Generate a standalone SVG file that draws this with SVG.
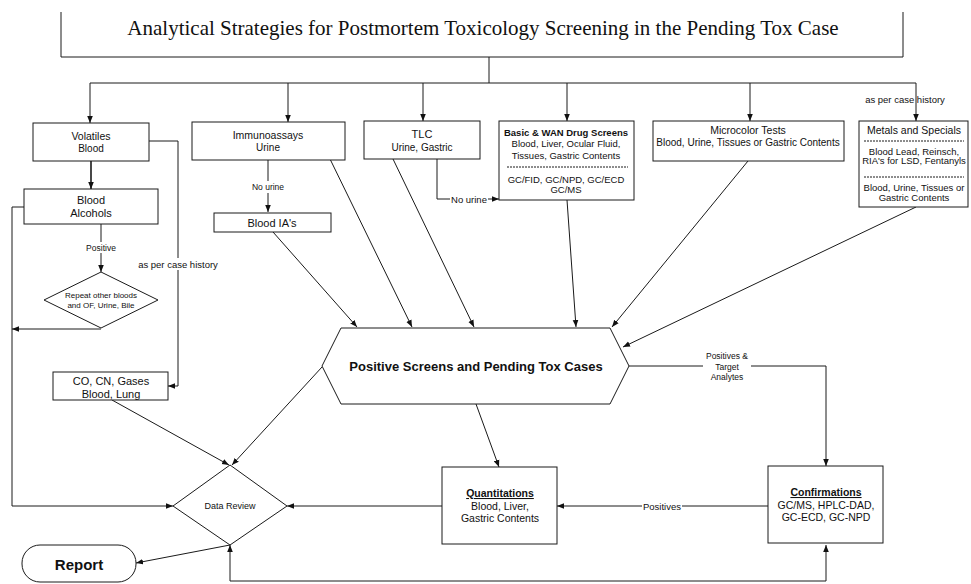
<svg xmlns="http://www.w3.org/2000/svg" width="971" height="584" viewBox="0 0 971 584">
<style>
  .box{fill:#fff;stroke:#1a1a1a;stroke-width:1}
  .ln{fill:none;stroke:#1a1a1a;stroke-width:1}
  .dash{fill:none;stroke:#1a1a1a;stroke-width:1;stroke-dasharray:2 1}
  .t{font-family:"Liberation Sans",Arial,sans-serif;fill:#111;text-anchor:middle}
  .b{font-weight:bold}
  .lbl{font-family:"Liberation Sans",Arial,sans-serif;fill:#111;text-anchor:middle;font-size:8.5px}
  .bg{fill:#fff;stroke:none}
</style>
<defs>
  <marker id="ah" viewBox="0 0 10 10" refX="10" refY="5" markerWidth="7" markerHeight="7" markerUnits="userSpaceOnUse" orient="auto-start-reverse">
    <path d="M0,1 L10,5 L0,9 z" fill="#111"/>
  </marker>
</defs>
<rect width="971" height="584" fill="#fff"/>

<g id="title">
  <path class="ln" d="M61,12 V57 H903 V12"/>
  <text x="483" y="35" font-family="'Liberation Serif','Times New Roman',serif" font-size="21" text-anchor="middle" fill="#111">Analytical Strategies for Postmortem Toxicology Screening in the Pending Tox Case</text>
</g>

<g id="connectors">
  <path class="ln" d="M489,57 V83"/>
  <path class="ln" d="M90,83 H916"/>
  <path class="ln" marker-end="url(#ah)" d="M90,83 V123"/>
  <path class="ln" marker-end="url(#ah)" d="M288,83 V122"/>
  <path class="ln" marker-end="url(#ah)" d="M423,83 V121"/>
  <path class="ln" marker-end="url(#ah)" d="M567,83 V121"/>
  <path class="ln" marker-end="url(#ah)" d="M750,83 V121"/>
  <path class="ln" marker-end="url(#ah)" d="M916,83 V121"/>
  <path class="ln" style="stroke-width:1.6" marker-end="url(#ah)" d="M91,161 V189"/>
  <path class="ln" marker-end="url(#ah)" d="M149,141 H178 V386 H168"/>
  <path class="ln" marker-end="url(#ah)" d="M101,224 V272"/>
  <path class="ln" marker-end="url(#ah)" d="M24,207 H12 V506 H173"/>
  <path class="ln" marker-end="url(#ah)" d="M101,329 H12"/>
  <path class="ln" marker-end="url(#ah)" d="M112,400 L229,465"/>
  <path class="ln" marker-end="url(#ah)" d="M322,367 L232,465"/>
  <path class="ln" marker-end="url(#ah)" d="M442,506 H287"/>
  <path class="ln" marker-end="url(#ah)" d="M230,545 L136,563"/>
  <path class="ln" marker-start="url(#ah)" marker-end="url(#ah)" d="M826,545 V581 H230 V545"/>
  <path class="ln" marker-end="url(#ah)" d="M476,404 L499,467"/>
  <path class="ln" marker-end="url(#ah)" d="M768,506 H557"/>
  <path class="ln" marker-end="url(#ah)" d="M629,366 H826 V466"/>
  <path class="ln" marker-end="url(#ah)" d="M268,160 V212"/>
  <path class="ln" marker-end="url(#ah)" d="M273,232 L357,327"/>
  <path class="ln" marker-end="url(#ah)" d="M330,159 L412,327"/>
  <path class="ln" marker-end="url(#ah)" d="M393,159 L474,327"/>
  <path class="ln" marker-end="url(#ah)" d="M437,159 V199 H499"/>
  <path class="ln" marker-end="url(#ah)" d="M567,200 L576,327"/>
  <path class="ln" marker-end="url(#ah)" d="M748,161 L612,327"/>
  <path class="ln" marker-end="url(#ah)" d="M916,207 L623,347"/>

  <rect class="bg" x="86" y="242" width="30" height="11"/>
  <text class="lbl" x="101" y="251" font-size="8">Positive</text>
  <rect class="bg" x="138" y="258" width="80" height="12"/>
  <text class="t" x="178" y="267.5" font-size="9.5">as per case history</text>
  <rect class="bg" x="251" y="181" width="34" height="12"/>
  <text class="lbl" x="268" y="190">No urine</text>
  <rect class="bg" x="450" y="193" width="38" height="12"/>
  <text class="t" x="469" y="202.5" font-size="9.5">No urine</text>
  <text class="t" x="905" y="103" font-size="9.5">as per case history</text>
  <rect class="bg" x="642" y="500" width="40" height="12"/>
  <text class="t" x="662" y="509.5" font-size="9.5">Positives</text>
  <rect class="bg" x="703" y="350" width="48" height="32"/>
  <text class="lbl" x="727" y="359">Positives &amp;</text>
  <text class="lbl" x="727" y="369.5">Target</text>
  <text class="lbl" x="727" y="380">Analytes</text>
</g>

<g id="volatiles">
  <rect class="box" x="33" y="123" width="116" height="38"/>
  <text class="t" x="91" y="140" font-size="10.5">Volatiles</text>
  <text class="t" x="91" y="152" font-size="10">Blood</text>
</g>
<g id="blood-alcohols">
  <rect class="box" x="24" y="189" width="134" height="35"/>
  <text class="t" x="91" y="204" font-size="11">Blood</text>
  <text class="t" x="91" y="217" font-size="11">Alcohols</text>
</g>
<g id="repeat">
  <polygon class="box" points="101,272 158,300 101,328 44,300"/>
  <text class="t" x="101" y="298" font-size="8">Repeat other bloods</text>
  <text class="t" x="101" y="307.5" font-size="8">and OF, Urine, Bile</text>
</g>
<g id="co-cn">
  <rect class="box" x="53" y="372" width="115" height="28"/>
  <text class="t" x="111" y="385" font-size="11">CO, CN, Gases</text>
  <text class="t" x="111" y="398" font-size="11">Blood, Lung</text>
</g>
<g id="immunoassays">
  <rect class="box" x="192" y="122" width="153" height="38"/>
  <text class="t" x="268" y="139" font-size="10.5">Immunoassays</text>
  <text class="t" x="268" y="151" font-size="10">Urine</text>
</g>
<g id="blood-ias">
  <rect class="box" x="214" y="213" width="117" height="19"/>
  <text class="t" x="272" y="226.5" font-size="11">Blood IA's</text>
</g>
<g id="tlc">
  <rect class="box" x="364" y="121" width="116" height="38"/>
  <text class="t" x="422" y="138" font-size="11">TLC</text>
  <text class="t" x="422" y="150.5" font-size="10">Urine, Gastric</text>
</g>
<g id="basic">
  <rect class="box" x="499" y="121" width="135" height="79"/>
  <text class="t b" x="566" y="135.5" font-size="9.5">Basic &amp; WAN Drug Screens</text>
  <text class="t" x="566" y="146.5" font-size="9.5">Blood, Liver, Ocular Fluid,</text>
  <text class="t" x="566" y="158.5" font-size="9.5">Tissues, Gastric Contents</text>
  <path class="dash" d="M507,167 H628"/>
  <text class="t" x="566" y="182.5" font-size="9.5">GC/FID, GC/NPD, GC/ECD</text>
  <text class="t" x="566" y="192.5" font-size="9.5">GC/MS</text>
</g>
<g id="microcolor">
  <rect class="box" x="653" y="121" width="191" height="40"/>
  <text class="t" x="748" y="134" font-size="10.5">Microcolor Tests</text>
  <text class="t" x="748" y="146" font-size="10">Blood, Urine, Tissues or Gastric Contents</text>
</g>
<g id="metals">
  <rect class="box" x="859" y="121" width="109" height="86"/>
  <text class="t" x="914" y="134" font-size="10.5">Metals and Specials</text>
  <path class="dash" d="M864,141 H964"/>
  <text class="t" x="914" y="154.5" font-size="9.5">Blood Lead, Reinsch,</text>
  <text class="t" x="914" y="164" font-size="9.5">RIA's for LSD, Fentanyls</text>
  <path class="dash" d="M864,177 H964"/>
  <text class="t" x="914" y="191" font-size="9.5">Blood, Urine, Tissues or</text>
  <text class="t" x="914" y="201" font-size="9.5">Gastric Contents</text>
</g>
<g id="positive-screens">
  <polygon class="box" points="341,328 610,328 629,366 610,404 341,404 322,366"/>
  <text class="t b" x="476" y="370.5" font-size="13">Positive Screens and Pending Tox Cases</text>
</g>
<g id="data-review">
  <polygon class="box" points="230,465 287,506 230,545 173,506"/>
  <text class="t" x="230" y="509" font-size="9">Data Review</text>
</g>
<g id="report">
  <rect class="box" x="22" y="545" width="114" height="37" rx="18" ry="18"/>
  <text class="t b" x="79" y="570" font-size="15">Report</text>
</g>
<g id="quantitations">
  <rect class="box" x="442" y="467" width="115" height="77"/>
  <text class="t b" x="500" y="497" font-size="10.5" text-decoration="underline">Quantitations</text>
  <text class="t" x="500" y="510" font-size="10.5">Blood, Liver,</text>
  <text class="t" x="500" y="522" font-size="10.5">Gastric Contents</text>
</g>
<g id="confirmations">
  <rect class="box" x="768" y="466" width="115" height="77"/>
  <text class="t b" x="826" y="496" font-size="10.5" text-decoration="underline">Confirmations</text>
  <text class="t" x="826" y="508.5" font-size="10.5">GC/MS, HPLC-DAD,</text>
  <text class="t" x="826" y="521" font-size="10.5">GC-ECD, GC-NPD</text>
</g>
</svg>
